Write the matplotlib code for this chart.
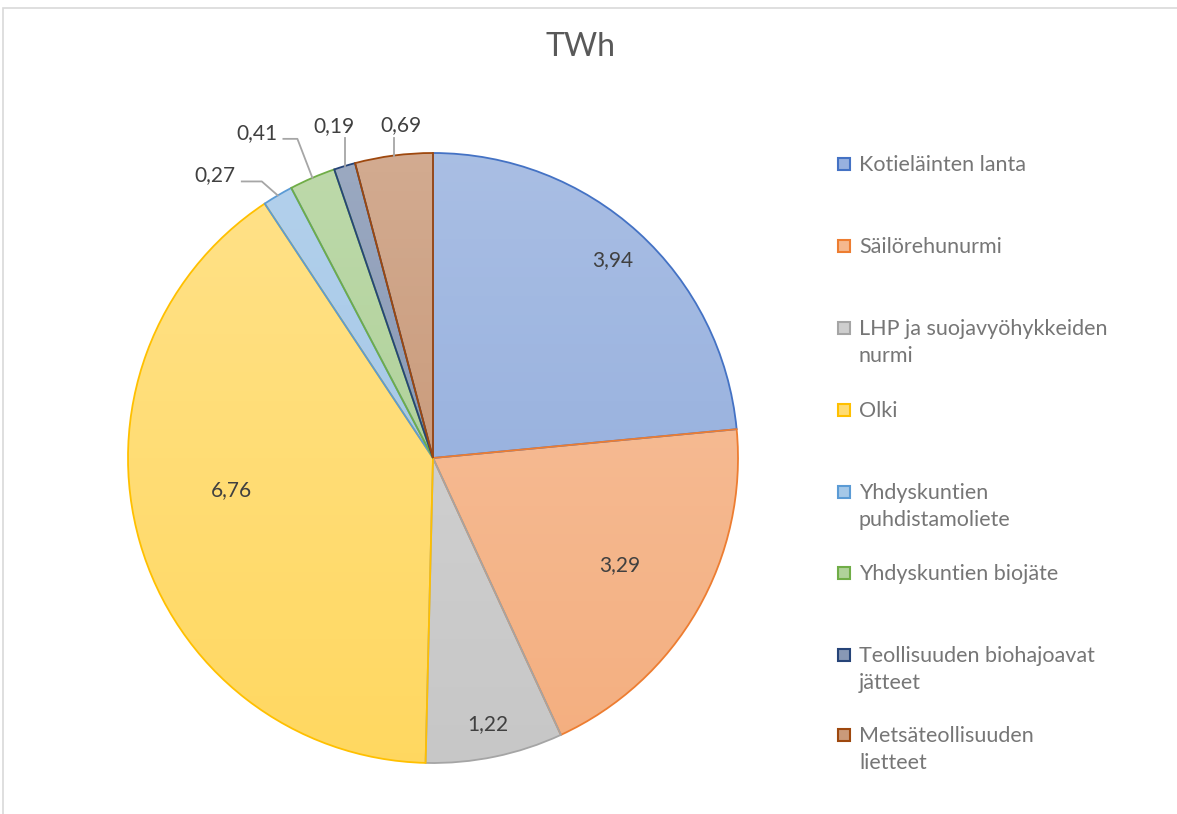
import numpy as np
import matplotlib.pyplot as plt
from matplotlib.colors import to_rgb
from matplotlib.patches import Rectangle

## arvot (TWh)
labels = ['Kotieläinten lanta', 'Säilörehunurmi', 'LHP ja suojavyöhykkeiden\nnurmi', 'Olki',
          'Yhdyskuntien\npuhdistamoliete', 'Yhdyskuntien biojäte',
          'Teollisuuden biohajoavat\njätteet', 'Metsäteollisuuden\nlietteet']
values = [3.94, 3.29, 1.22, 6.76, 0.27, 0.41, 0.19, 0.69]
value_text = ['3,94', '3,29', '1,22', '6,76', '0,27', '0,41', '0,19', '0,69']
colors = ['#4472C4', '#ED7D31', '#A5A5A5', '#FFC000', '#5B9BD5', '#70AD47', '#264478', '#9E480E']

W, H = 1177, 814
fig = plt.figure(figsize=(W / 100, H / 100), dpi=100)
ax = fig.add_axes([0, 0, 1, 1])

font = 'Lato'
txtcol = '#767676'
lblcol = '#404040'

cx, cy, r = 433, H - 458, 305
wedges, _ = ax.pie(values, startangle=90, counterclock=False, center=(cx, cy), radius=r,
                   colors=colors, frame=True, wedgeprops=dict(linewidth=1.3))


def mix(c, t):
    c = np.array(to_rgb(c))
    return c + (1 - c) * t


# liukuvärit sektoreihin
for w, c in zip(wedges, colors):
    w.set_edgecolor(c)
    top, bot = mix(c, 0.54), mix(c, 0.38)
    g = np.linspace(0, 1, 64)[:, None, None]
    img = top[None, None, :] * (1 - g) + bot[None, None, :] * g
    im = ax.imshow(img, extent=(cx - r, cx + r, cy - r, cy + r), origin='upper',
                   aspect='auto', zorder=0.5)
    im.set_clip_path(w)
    w.set_facecolor('none')
    w.set_zorder(1)

ax.set_xlim(0, W)
ax.set_ylim(0, H)
ax.set_aspect('equal')
ax.axis('off')

# kehys
ax.add_patch(Rectangle((3, -10), W + 20, H - 8 + 10, fill=False, edgecolor='#D9D9D9', lw=1.2))

# arvot sektorien sisällä: (säteen osuus, kulmasiirto)
inside = {0: (0.875, 0), 1: (0.705, 0), 2: (0.89, 0), 3: (0.67, -7)}
for i, (fr, dth) in inside.items():
    w = wedges[i]
    th = np.deg2rad((w.theta1 + w.theta2) / 2 + dth)
    ax.text(cx + fr * r * np.cos(th), cy + fr * r * np.sin(th), value_text[i],
            ha='center', va='center', fontsize=15, color=lblcol, family=font)

# pienet sektorit ohjainviivoilla
leaders = {4: [(-16, 14), (-36, 14)], 5: [(-15, 39), (-29, 39)],
           6: [(0, 0), (0, 28)], 7: [(0, 0), (0, 18)]}
text_off = {4: (-27, 6), 5: (-26, 6), 6: (-11, 12), 7: (7, 12)}
for i, pts in leaders.items():
    w = wedges[i]
    th = np.deg2rad((w.theta1 + w.theta2) / 2)
    ex, ey = cx + r * np.cos(th), cy + r * np.sin(th)
    xs = [ex] + [ex + p[0] for p in pts]
    ys = [ey] + [ey + p[1] for p in pts]
    ax.plot(xs, ys, color='#A6A6A6', lw=1.3, zorder=2)
    ax.text(xs[-1] + text_off[i][0], ys[-1] + text_off[i][1], value_text[i],
            ha='center', va='center', fontsize=15, color=lblcol, family=font)

# otsikko
ax.text(581, H - 47, 'TWh', ha='center', va='center', fontsize=23, color='#595959', family=font)

# selite
ly = [164, 246, 328, 410, 492, 573, 655, 735]
for i, (lab, c) in enumerate(zip(labels, colors)):
    y = H - ly[i]
    ax.add_patch(Rectangle((838, y - 6), 12, 12, facecolor=mix(c, 0.45), edgecolor=c, lw=1.5))
    ax.text(859, y + 9, lab, ha='left', va='top', fontsize=15.5, color=txtcol,
            family=font, linespacing=1.45)

fig.savefig('out.png', dpi=100)
